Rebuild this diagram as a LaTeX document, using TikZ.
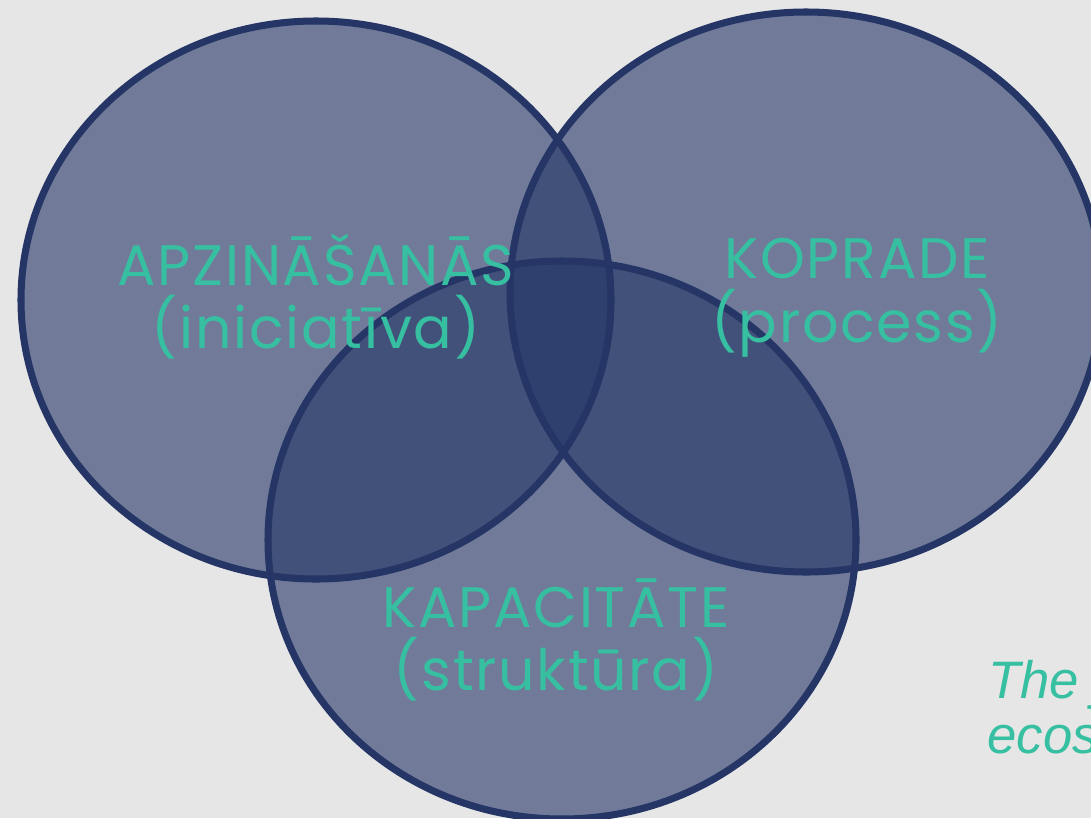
\documentclass[tikz,border=0pt]{standalone}
\usepackage{fontspec}
\setmainfont{Poppins}[LetterSpace=3]
\newfontfamily\notefont{Liberation Sans}
\usepackage{xcolor}
\usetikzlibrary{positioning}

\definecolor{bgGray}{HTML}{E6E6E6}
\definecolor{navy}{HTML}{243566}
\definecolor{teal}{HTML}{36BFA1}

\tikzset{
  bubble/.style={fill=navy, fill opacity=0.6},
  rim/.style={draw=navy, line width=4pt},
  lbl/.style={text=teal, font=\fontsize{32.5}{36}\selectfont, anchor=base, inner sep=0pt},
  note/.style={text=teal, font=\notefont\itshape\fontsize{30}{32}\selectfont, anchor=base west, inner sep=0pt}
}

\begin{document}
\begin{tikzpicture}[x=0.02cm, y=-0.02cm]
  \fill[bgGray] (0,0) rectangle (1091,818);
  \useasboundingbox (0,0) rectangle (1091,818);

  % the three sets
  \foreach \cx/\cy/\rx/\ry in {316/300/295/279, 806/292/296/280, 562/540/294/279}{
    \fill[bubble] (\cx,\cy) ellipse [x radius=\rx, y radius=\ry];
  }
  \foreach \cx/\cy/\rx/\ry in {316/300/295/279, 806/292/296/280, 562/540/294/279}{
    \draw[rim] (\cx,\cy) ellipse [x radius=\rx, y radius=\ry];
  }

  % labels
  \node[lbl] (apz) at (316,285) {APZINĀŠANĀS};
  \node[lbl] (apzsub) at (316,348) {(iniciatīva)};
  \node[lbl] (kop) at (857,278) {KOPRADE};
  \node[lbl] (kopsub) at (857,342) {(process)};
  \node[lbl] (kap) at (556,627) {KAPACITĀTE};
  \node[lbl] (kapsub) at (556,690) {(struktūra)};

  % note, cut by the page edge
  \node[note] (noteA) at (988,698) {The j};
  \node[note] (noteB) at (987,753) {ecos};
\end{tikzpicture}
\end{document}
